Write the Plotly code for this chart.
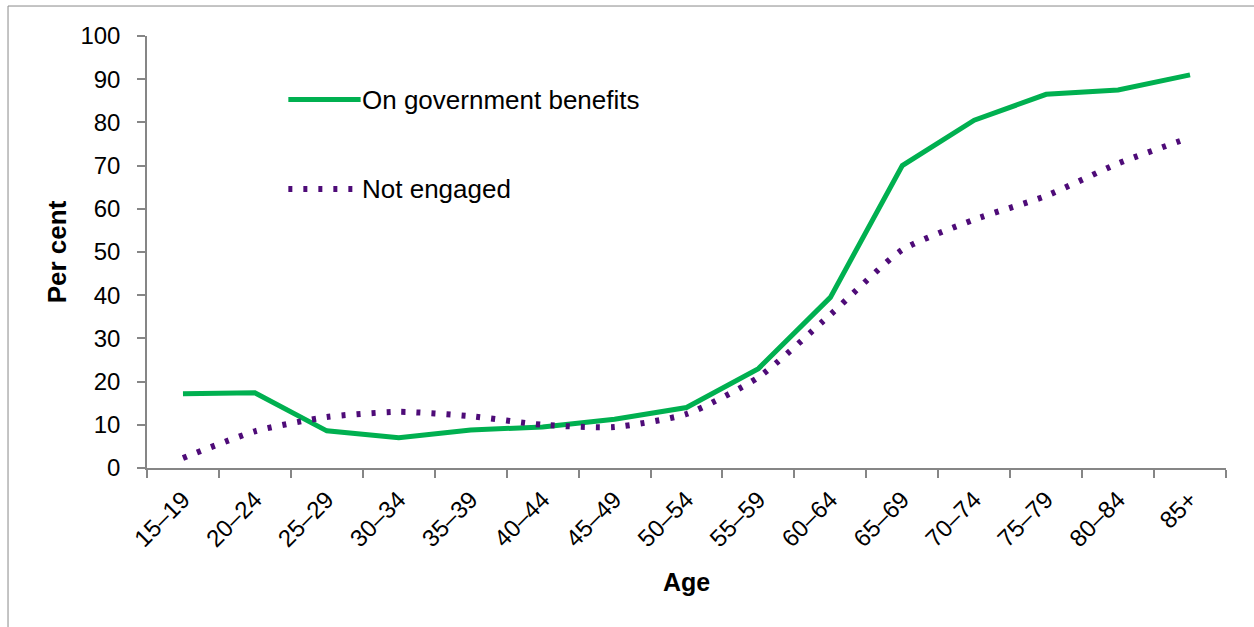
import plotly.graph_objects as go

ages = ["15–19", "20–24", "25–29", "30–34", "35–39", "40–44", "45–49", "50–54",
        "55–59", "60–64", "65–69", "70–74", "75–79", "80–84", "85+"]
gov_benefits = [17.2, 17.4, 8.6, 7.0, 8.8, 9.5, 11.3, 14.0, 23.0, 39.5, 70.0, 80.5, 86.5, 87.5, 91.0]
not_engaged = [2.3, 8.5, 11.8, 13.0, 12.0, 10.0, 9.5, 12.5, 21.0, 35.5, 50.5, 57.5, 63.0, 70.5, 76.5]
y_ticks = list(range(0, 101, 10))

GREEN = "#00B050"
PURPLE = "#4E0B78"
AXIS = "#868686"
FONT = "Liberation Sans, Arial, sans-serif"
DOTS = "4px,11px"

fig = go.Figure()
fig.add_trace(go.Scatter(x=ages, y=gov_benefits, mode="lines", name="On government benefits",
                         line=dict(color=GREEN, width=5), showlegend=False))
fig.add_trace(go.Scatter(x=ages, y=not_engaged, mode="lines", name="Not engaged",
                         line=dict(color=PURPLE, width=6, dash=DOTS, shape="spline", smoothing=0.6),
                         showlegend=False))

# manual legend
fig.add_shape(type="line", xref="paper", yref="paper", x0=0.131, x1=0.198, y0=0.853, y1=0.853,
              line=dict(color=GREEN, width=5))
fig.add_shape(type="line", xref="paper", yref="paper", x0=0.131, x1=0.198, y0=0.646, y1=0.646,
              line=dict(color=PURPLE, width=6, dash=DOTS))
fig.add_annotation(xref="paper", yref="paper", x=0.199, y=0.853, text="On government benefits",
                   showarrow=False, xanchor="left", yanchor="middle", xshift=-2,
                   font=dict(size=26, color="black", family=FONT))
fig.add_annotation(xref="paper", yref="paper", x=0.199, y=0.646, text="Not engaged",
                   showarrow=False, xanchor="left", yanchor="middle", xshift=-2,
                   font=dict(size=26, color="black", family=FONT))

# outer border
fig.add_shape(type="rect", xref="paper", yref="paper", x0=-0.1288, x1=1.2, y0=-0.6, y1=1.0694,
              line=dict(color="#8a8a8a", width=1), fillcolor="rgba(0,0,0,0)")

fig.update_layout(
    width=1254, height=627,
    margin=dict(l=147, r=28, t=36, b=159),
    plot_bgcolor="white", paper_bgcolor="white",
    font=dict(family=FONT, size=24, color="black"),
)
fig.update_xaxes(
    type="category", range=[-0.5, 14.5], showgrid=False, showline=True, linecolor=AXIS, linewidth=2,
    ticks="outside", tickson="boundaries", ticklen=8, tickcolor=AXIS, tickwidth=1.5,
    tickangle=-45, tickfont=dict(size=24, family=FONT), ticklabelstandoff=6,
    title=dict(text="<b>Age</b>", font=dict(size=25, family=FONT), standoff=22),
)
fig.update_yaxes(
    range=[0, 100], tickvals=y_ticks, showgrid=False, showline=True, linecolor=AXIS, linewidth=1.5,
    ticks="outside", ticklen=8, tickcolor=AXIS, tickwidth=1.5, zeroline=False,
    tickfont=dict(size=24, family=FONT), ticklabelstandoff=12,
    title=dict(text="<b>Per cent</b>", font=dict(size=26, family=FONT), standoff=6),
)

fig.write_html("out.html")
